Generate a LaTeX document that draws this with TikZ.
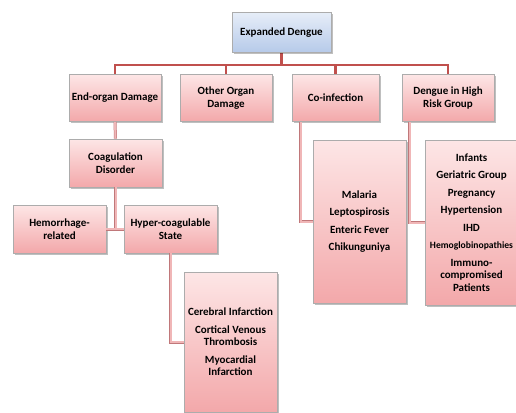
\documentclass[tikz,border=0pt]{standalone}
\usepackage{fontspec}
\setmainfont{Carlito}
\usetikzlibrary{shadows}
\definecolor{pinkTop}{HTML}{FDE6E6}
\definecolor{pinkBot}{HTML}{F3A8AA}
\definecolor{blueTop}{HTML}{E6EDF8}
\definecolor{blueBot}{HTML}{B6CAE9}
\definecolor{busred}{HTML}{C0504D}
\definecolor{linkedge}{HTML}{C0787A}
\definecolor{linkfill}{HTML}{F0B6B7}
\tikzset{
  box/.style={draw=gray!65, line width=0.6pt, top color=pinkTop, bottom color=pinkBot,
    drop shadow={shadow xshift=1.5pt, shadow yshift=-1.5pt, fill=black, opacity=0.25},
    align=center, font=\fontsize{11}{12.5}\selectfont\bfseries, inner sep=1pt},
  topbox/.style={box, top color=blueTop, bottom color=blueBot},
  bus/.style={draw=busred, line width=2.4pt},
  link/.style={draw=linkedge, line width=0.5pt, double=linkfill, double distance=2pt}
}
\begin{document}
\begin{tikzpicture}[x=1pt,y=-1pt]
\useasboundingbox (0,0) rectangle (516,412);
\clip (0,0) rectangle (516,412);
% connectors first (behind boxes)
\coordinate (busmid) at (281.5,65);
\coordinate (topS) at (281.5,52.5);
\coordinate (eodN) at (115,74.5);
\coordinate (oodN) at (226,74.5);
\coordinate (coiN) at (335.5,74.5);
\coordinate (dhrN) at (448,74.5);
\draw[bus] (topS) -- (busmid);
\draw[bus] (eodN) |- (busmid);
\draw[bus] (oodN) |- (busmid);
\draw[bus] (coiN) |- (busmid);
\draw[bus] (dhrN) |- (busmid);
% nodes
\node[topbox, minimum width=99pt, minimum height=40pt] (top) at (281.5,32.5) {Expanded Dengue};
\node[box, minimum width=92pt, minimum height=47pt] (eod) at (115,98) {End-organ Damage};
\node[box, minimum width=92pt, minimum height=47pt] (ood) at (226,98) {Other Organ\\Damage};
\node[box, minimum width=87pt, minimum height=47pt] (coi) at (335.5,98) {Co-infection};
\node[box, minimum width=92pt, minimum height=47pt] (dhr) at (448,98) {Dengue in High\\Risk Group};
\node[box, minimum width=93pt, minimum height=48pt] (coag) at (115.5,163) {Coagulation\\Disorder};
\node[box, minimum width=93pt, minimum height=48pt] (hem) at (59.5,229) {Hemorrhage-\\related};
\node[box, minimum width=93pt, minimum height=48pt] (hyp) at (170.5,229) {Hyper-coagulable\\State};
\node[box, minimum width=93pt, minimum height=140pt] (cer) at (230.5,342) {Cerebral Infarction\\[5pt]Cortical Venous\\Thrombosis\\[5pt]Myocardial\\Infarction};
\node[box, minimum width=93pt, minimum height=163pt] (mal) at (359.5,221.5) {Malaria\\[5pt]Leptospirosis\\[5pt]Enteric Fever\\[5pt]Chikunguniya};
\node[box, minimum width=93pt, minimum height=165pt] (inf) at (471.5,222.5) {Infants\\[5pt]Geriatric Group\\[5pt]Pregnancy\\[5pt]Hypertension\\[5pt]IHD\\[5pt]{\fontsize{9.6}{12.5}\selectfont Hemoglobinopathies}\\[5pt]Immuno-\\compromised\\Patients};
% lower links
\draw[link] (eod.south) -- (coag.north);
\draw[link] (coag.south) -- (coag.south |- hem.east);
\draw[link] (hem.east) -- (hyp.west);
\draw[link] (hyp.south) |- (cer.west);
\draw[link] ([xshift=9pt]coi.south west) |- (mal.west);
\draw[link] ([xshift=8pt]dhr.south west) |- (inf.west);
\end{tikzpicture}
\end{document}
